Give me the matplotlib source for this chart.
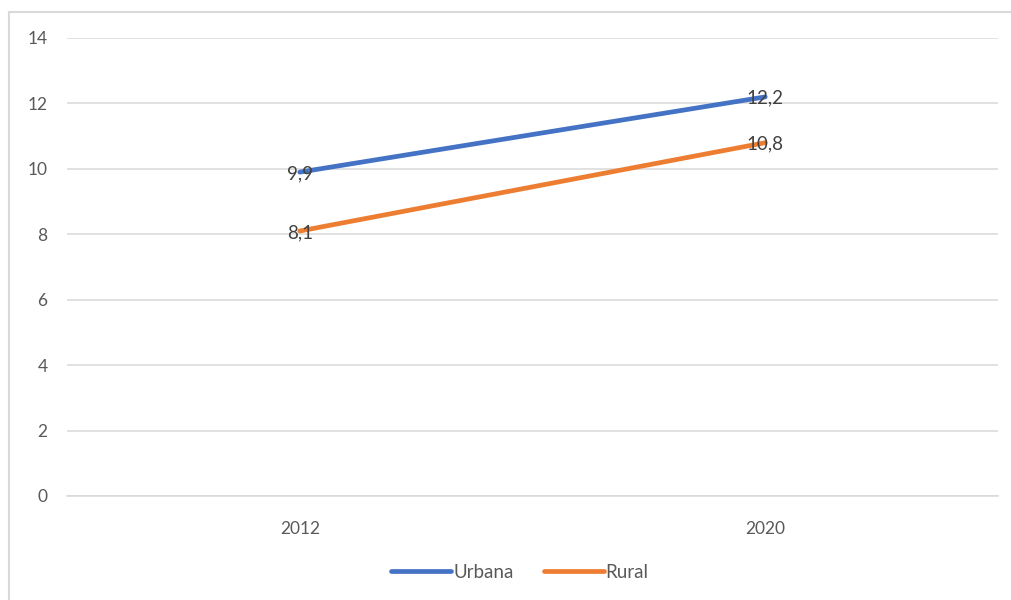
import matplotlib
matplotlib.use("Agg")
import matplotlib.pyplot as plt
from matplotlib.lines import Line2D

years = ["2012", "2020"]
urbana = [9.9, 12.2]
rural = [8.1, 10.8]
yticks = [0, 2, 4, 6, 8, 10, 12, 14]

plt.rcParams['font.family'] = ['Lato', 'DejaVu Sans']

fig = plt.figure(figsize=(10.11, 6.0), dpi=100)
ax = fig.add_axes([67/1011, 1-496/600, (998-67)/1011, (496-38)/600])

x = list(range(len(years)))
ax.plot(x, urbana, color="#4472C4", lw=3.4, solid_capstyle="round", label="Urbana", zorder=3)
ax.plot(x, rural, color="#ED7D31", lw=3.4, solid_capstyle="round", label="Rural", zorder=3)

for xi, v in zip(x, urbana):
    ax.annotate(f"{v:.1f}".replace(".", ","), (xi, v), xytext=(0, -1), textcoords="offset points",
                ha="center", va="center", fontsize=13.5, color="#404040", zorder=4)
for xi, v in zip(x, rural):
    ax.annotate(f"{v:.1f}".replace(".", ","), (xi, v), xytext=(0, -1), textcoords="offset points",
                ha="center", va="center", fontsize=13.5, color="#404040", zorder=4)

ax.set_xlim(-0.5, 1.5)
ax.set_ylim(0, 14)
ax.set_yticks(yticks)
ax.set_xticks(x)
ax.set_xticklabels(years)
ax.grid(axis="y", color="#D9D9D9", lw=1.1)
ax.set_axisbelow(True)
for s in ["top", "right", "left"]:
    ax.spines[s].set_visible(False)
ax.spines["bottom"].set_color("#D9D9D9")
ax.spines["bottom"].set_linewidth(1.1)
ax.tick_params(axis="both", length=0, labelsize=12.5, labelcolor="#595959")
ax.tick_params(axis="y", pad=14)
ax.tick_params(axis="x", pad=18)

handles = [Line2D([], [], color="#4472C4", lw=3.4, solid_capstyle="round"),
           Line2D([], [], color="#ED7D31", lw=3.4, solid_capstyle="round")]
fig.legend(handles, ["Urbana", "Rural"], loc="center", bbox_to_anchor=(520/1011, 1-572/600),
           ncol=2, frameon=False, fontsize=13.5, labelcolor="#595959",
           handlelength=3.2, handletextpad=0.1, columnspacing=1.6)

# chart border (top and left visible)
fig.add_artist(Line2D([9/1011, 1], [1-12/600, 1-12/600], color="#D9D9D9", lw=1.5, transform=fig.transFigure))
fig.add_artist(Line2D([9/1011, 9/1011], [0, 1-12/600], color="#D9D9D9", lw=1.5, transform=fig.transFigure))

fig.savefig("out.png", dpi=100)
